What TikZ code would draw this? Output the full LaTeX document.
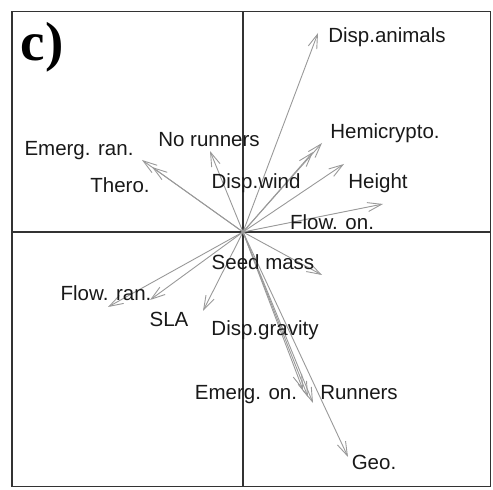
\documentclass[tikz,border=0pt]{standalone}
\usepackage{fontspec}
\setmainfont{Liberation Sans}
\newfontfamily\panelfont{Liberation Serif}
\usetikzlibrary{arrows.meta}
\begin{document}
\begin{tikzpicture}[x=1pt,y=1pt,
  lbl/.style={inner sep=0pt,font=\fontsize{20.5}{22}\selectfont,text=black!90},
  vec/.style={draw=black!40,line width=0.9pt,-{Straight Barb[length=14pt,width=9pt]}},
  frm/.style={draw=black!80,line width=1.8pt}]
\useasboundingbox (0,0) rectangle (493,490);
\draw[frm] (12,3.5) rectangle (490.5,478.5);
\coordinate (o) at (243,258);
\draw[frm,line width=1.5pt] (243,3.5) -- (243,478.5);
\draw[frm,line width=1.5pt] (12,258) -- (490.5,258);
\node[font=\panelfont\bfseries\fontsize{55}{55}\selectfont,inner sep=0pt] (p) at (42,443) {c)};
% arrow tips
\coordinate (t1) at (318,457);
\coordinate (t2) at (322,347);
\coordinate (t3) at (313,338);
\coordinate (t4) at (344,326);
\coordinate (t5) at (383,286);
\coordinate (t6) at (210,339);
\coordinate (t7) at (142,330);
\coordinate (t8) at (152,323);
\coordinate (t9) at (322,215);
\coordinate (t10) at (108,183);
\coordinate (t11) at (150,190);
\coordinate (t12) at (203,179);
\coordinate (t13) at (303,100);
\coordinate (t14) at (308,93);
\coordinate (t15) at (313,87);
\coordinate (t16) at (348,33);
\foreach \t in {1,...,16} \draw[vec] (o) -- (t\t);
% labels
\node[lbl] (v1) at (387,453) {Disp.animals};
\node[lbl] (v2) at (385,357) {Hemicrypto.};
\node[lbl] (v3) at (378,307) {Height};
\node[lbl] (v4) at (332,268) {Flow. on.};
\node[lbl] (v5) at (256,307) {Disp.wind};
\node[lbl] (v6) at (209,350) {No runners};
\node[lbl] (v7) at (79,339) {Emerg. ran.};
\node[lbl] (v8) at (120,305) {Thero.};
\node[lbl] (v9) at (263,228) {Seed mass};
\node[lbl] (v10) at (106,197) {Flow. ran.};
\node[lbl] (v11) at (169,171) {SLA};
\node[lbl] (v12) at (265,160) {Disp.gravity};
\node[lbl] (v13) at (246,95) {Emerg. on.};
\node[lbl] (v14) at (359,97) {Runners};
\node[lbl] (v15) at (374,28) {Geo.};
\end{tikzpicture}
\end{document}
